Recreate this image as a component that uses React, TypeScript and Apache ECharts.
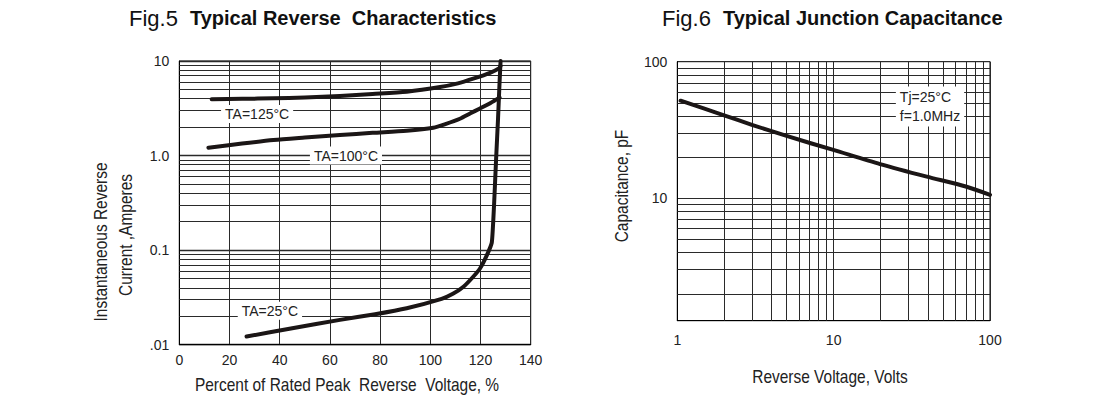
import React, { useEffect, useRef } from "react";
import * as echarts from "echarts";

// ---- Data ----
// Fig.5 Typical Reverse Characteristics (x: % of rated peak reverse voltage, y: A)
const T125_X = [12.9, 25, 37.5, 50, 64, 77, 90.6, 103.9, 111, 117.1, 123.8, 127.5, 128.0];
const T125_Y = [3.94, 3.98, 4.03, 4.12, 4.27, 4.48, 4.74, 5.3, 5.8, 6.5, 7.5, 8.4, 8.9];

const T100_X = [11.6, 25, 37.5, 50, 64, 77, 90.6, 101.2, 106, 111.8, 116, 119.8, 124, 127.6];
const T100_Y = [1.21, 1.34, 1.46, 1.55, 1.65, 1.74, 1.83, 1.97, 2.15, 2.45, 2.8, 3.15, 3.6, 4.1];

const T25_X = [26.8, 45, 64, 78, 90.6, 104.5, 109, 113.2, 117, 119.8, 122.5, 124.5, 125.4, 126.2, 127.0, 127.6, 128.0];
const T25_Y = [0.0122, 0.0149, 0.0183, 0.021, 0.0243, 0.0305, 0.0345, 0.041, 0.052, 0.064, 0.088, 0.12, 0.3, 0.9, 2.5, 6.0, 10];

// Fig.6 Typical Junction Capacitance (x: reverse voltage V, y: pF)
const CAP_X = [1.05, 1.97, 3, 5.0, 9.95, 19.8, 39.4, 70, 100];
const CAP_Y = [51.8, 40.7, 34.5, 28.6, 22.6, 17.8, 14.4, 12.2, 10.6];

// Axis ranges / ticks
const LEFT_X_MIN = 0;
const LEFT_X_MAX = 140;
const LEFT_X_STEP = 20;
const LEFT_Y_MIN = 0.01;
const LEFT_Y_MAX = 10;
const LEFT_Y_LABELS = [".01", "0.1", "1.0", "10"];
const RIGHT_X_MIN = 1;
const RIGHT_X_MAX = 100;
const RIGHT_Y_MIN = 1.27;
const RIGHT_Y_MAX = 100;
const RIGHT_Y_LABELED = [10, 100];

// log grid lines
const MINOR_MULT = [2, 3, 4, 5, 6, 7, 8, 9];
const LEFT_DECADES = [0.01, 0.1, 1];
const RIGHT_X_DECADES = [1, 10];
const RIGHT_Y_DECADES = [1, 10];

// annotations
const LEFT_NOTES = [
  { text: "TA=125°C", x: 31, y: 2.75 },
  { text: "TA=100°C", x: 66.4, y: 1.0 },
  { text: "TA=25°C", x: 36.1, y: 0.0228 },
];
const RIGHT_NOTE = { text: "Tj=25°C\nf=1.0MHz", x: 25.0, y: 47.0 };

const NARROW = '"Liberation Sans Narrow", "Arial Narrow", "Liberation Sans", Arial, sans-serif';
const SANS = '"Liberation Sans", Arial, Helvetica, sans-serif';
const INK = "#1b1616";
const GRID_C = "#2a2a2a";

function minorValues(decades: number[], lo: number, hi: number) {
  const out: number[] = [];
  decades.forEach((d) => MINOR_MULT.forEach((m) => {
    const v = m * d;
    if (v > lo && v < hi) out.push(v);
  }));
  return out;
}

function zip(xs: number[], ys: number[]) {
  return xs.map((x, i) => [x, ys[i]]);
}

export default function App() {
  const ref = useRef<HTMLDivElement>(null);
  useEffect(() => {
    if (!ref.current) return;
    const chart = echarts.init(ref.current, undefined, { renderer: "svg" });

    const gridLineStyle = { type: "solid", color: GRID_C, width: 1 };
    const markLineBase = {
      silent: true,
      symbol: ["none", "none"],
      label: { show: false },
      lineStyle: gridLineStyle,
      animation: false,
      emphasis: { disabled: true },
    };

    const curve = (name: string, xi: number, data: number[][], extra: any = {}) => ({
      type: "line",
      name,
      xAxisIndex: xi,
      yAxisIndex: xi,
      data,
      showSymbol: false,
      symbol: "none",
      smooth: 0.25,
      lineStyle: { color: INK, width: 4, cap: "round", join: "round" },
      z: 5,
      silent: true,
      ...extra,
    });

    const notePoint = (n: { text: string; x: number; y: number }, fs: number, lh: number, align = "center") => ({
      coord: [n.x, n.y],
      symbol: "rect",
      symbolSize: 1,
      itemStyle: { color: "rgba(0,0,0,0)" },
      label: {
        show: true,
        position: "inside",
        formatter: n.text,
        color: "#222",
        fontFamily: NARROW,
        fontSize: fs,
        lineHeight: lh,
        align,
        backgroundColor: "#fff",
        padding: [1, 4, 1, 4],
      },
    });

    const titleRich = {
      a: { fontFamily: SANS, fontSize: 22, fontWeight: 500, color: "#111", padding: [0, 12, 0, 0] },
      b: { fontFamily: SANS, fontSize: 20, fontWeight: "bold", color: "#111" },
    };

    const axisTitle = (text: string, x: number, y: number, vertical: boolean) => ({
      type: "text",
      x,
      y,
      rotation: vertical ? Math.PI / 2 : 0,
      scaleX: 0.86,
      style: { text, fill: "#222", font: `18px ${NARROW}`, textAlign: "center", textVerticalAlign: "middle" },
    });

    chart.setOption({
      animation: false,
      backgroundColor: "#fff",
      title: [
        { text: "{a|Fig.5}{b|Typical Reverse  Characteristics}", left: 124, top: 2, textStyle: { rich: titleRich } },
        { text: "{a|Fig.6}{b|Typical Junction Capacitance}", left: 657, top: 2, textStyle: { rich: titleRich } },
      ],
      grid: [
        { left: 179.3, top: 61, width: 351.4, height: 283.7, show: true, borderColor: "#000", borderWidth: 1, backgroundColor: "transparent" },
        { left: 677.3, top: 61.7, width: 312.7, height: 259, show: true, borderColor: "#000", borderWidth: 1, backgroundColor: "transparent" },
      ],
      xAxis: [
        {
          type: "value", gridIndex: 0, min: LEFT_X_MIN, max: LEFT_X_MAX, interval: LEFT_X_STEP,
          axisLine: { show: true, lineStyle: { color: "#000", width: 1 } },
          axisTick: { show: false },
          axisLabel: { color: "#222", fontFamily: NARROW, fontSize: 14, margin: 8 },
          splitLine: { show: true, lineStyle: { color: GRID_C, width: 1 } },
        },
        {
          type: "log", gridIndex: 1, logBase: 10, min: RIGHT_X_MIN, max: RIGHT_X_MAX,
          axisLine: { show: true, lineStyle: { color: "#000", width: 1 } },
          axisTick: { show: false },
          axisLabel: { color: "#222", fontFamily: NARROW, fontSize: 14, margin: 12 },
          splitLine: { show: true, lineStyle: { color: GRID_C, width: 1 } },
        },
      ],
      yAxis: [
        {
          type: "log", gridIndex: 0, logBase: 10, min: LEFT_Y_MIN, max: LEFT_Y_MAX,
          axisLine: { show: true, lineStyle: { color: "#000", width: 1 } },
          axisTick: { show: false },
          axisLabel: {
            color: "#222", fontFamily: NARROW, fontSize: 14, margin: 10,
            formatter: (v: number) => {
              const k = Math.round(Math.log10(v)) + 2;
              return LEFT_Y_LABELS[k] ?? "";
            },
          },
          splitLine: { show: true, lineStyle: { color: GRID_C, width: 1.4 } },
        },
        {
          type: "log", gridIndex: 1, logBase: 10, min: RIGHT_Y_MIN, max: RIGHT_Y_MAX,
          axisLine: { show: true, lineStyle: { color: "#000", width: 1 } },
          axisTick: { show: false },
          axisLabel: {
            color: "#222", fontFamily: NARROW, fontSize: 14, margin: 10,
            formatter: (v: number) => (RIGHT_Y_LABELED.some((t) => Math.abs(t - v) < 1e-6 * t) ? String(Math.round(v)) : ""),
          },
          splitLine: { show: true, lineStyle: { color: GRID_C, width: 1 } },
        },
      ],
      series: [
        {
          type: "line", xAxisIndex: 0, yAxisIndex: 0, data: [], z: 1, silent: true,
          markLine: { ...markLineBase, data: minorValues(LEFT_DECADES, LEFT_Y_MIN, LEFT_Y_MAX).map((v) => ({ yAxis: v })) },
        },
        {
          type: "line", xAxisIndex: 1, yAxisIndex: 1, data: [], z: 1, silent: true,
          markLine: {
            ...markLineBase,
            data: [
              ...minorValues(RIGHT_X_DECADES, RIGHT_X_MIN, RIGHT_X_MAX).map((v) => ({ xAxis: v })),
              ...minorValues(RIGHT_Y_DECADES, RIGHT_Y_MIN, RIGHT_Y_MAX).map((v) => ({ yAxis: v })),
            ],
          },
        },
        curve("TA=125°C", 0, zip(T125_X, T125_Y), {
          markPoint: { silent: true, animation: false, z: 6, data: [notePoint(LEFT_NOTES[0], 14, 16)] },
        }),
        curve("TA=100°C", 0, zip(T100_X, T100_Y), {
          markPoint: { silent: true, animation: false, z: 6, data: [notePoint(LEFT_NOTES[1], 14, 16)] },
        }),
        curve("TA=25°C", 0, zip(T25_X, T25_Y), {
          smooth: 0.15,
          markPoint: { silent: true, animation: false, z: 6, data: [notePoint(LEFT_NOTES[2], 14, 16)] },
        }),
        curve("Capacitance", 1, zip(CAP_X, CAP_Y), {
          markPoint: { silent: true, animation: false, z: 6, data: [notePoint(RIGHT_NOTE, 14, 19, "left")] },
        }),
      ],
      graphic: [
        axisTitle("Instantaneous Reverse", 101, 242, true),
        axisTitle("Current ,Amperes", 126, 235, true),
        axisTitle("Percent of Rated Peak  Reverse  Voltage, %", 347, 385, false),
        axisTitle("Capacitance, pF", 622, 186, true),
        axisTitle("Reverse Voltage, Volts", 830, 377, false),
      ],
    });
    return () => chart.dispose();
  }, []);
  return <div ref={ref} style={{ position: "absolute", left: 0, top: 0, width: 1100, height: 399 }} />;
}
